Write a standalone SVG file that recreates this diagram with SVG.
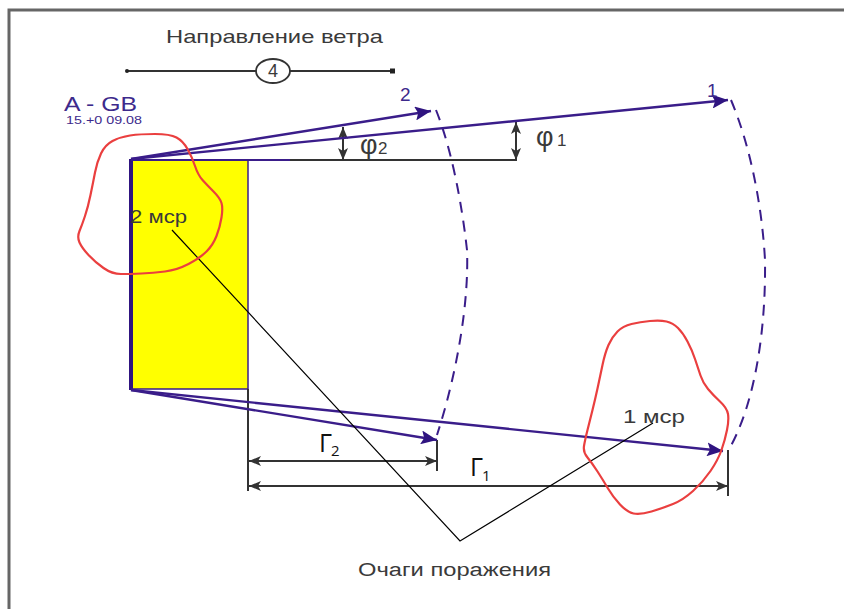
<svg xmlns="http://www.w3.org/2000/svg" width="844" height="609" viewBox="0 0 844 609">
<style>
.t{font-family:"Liberation Sans",Arial,sans-serif;fill:#3a3a3a}
.p{font-family:"Liberation Sans",Arial,sans-serif;fill:#3d2a8c}
.g{font-family:"Open Sans","Noto Sans",sans-serif;fill:#111}
.v{fill:none;stroke:#3a1d8a;stroke-width:2.400}
.d{fill:none;stroke:#3a1d8a;stroke-width:2;stroke-dasharray:11 8}
.k{fill:none;stroke:#333;stroke-width:2}
.r{fill:none;stroke:#ea3f3f;stroke-width:2.200;stroke-linejoin:round}
.b{fill:none;stroke:#000;stroke-width:1.200}
</style>
<defs>
<marker id="av" markerUnits="userSpaceOnUse" markerWidth="18" markerHeight="14" refX="16" refY="7" orient="auto"><path d="M0 0L16 7L0 14L3 7Z" fill="#2f1480"/></marker>
<marker id="as" markerUnits="userSpaceOnUse" markerWidth="14" markerHeight="12" refX="12" refY="5" orient="auto-start-reverse"><path d="M0 0L12 5L0 10L3 5Z" fill="#333"/></marker>
</defs>
<g id="frame"><path d="M9 609V10H844" fill="none" stroke="#666" stroke-width="3"/></g>
<g id="zone">
<rect x="131" y="160" width="117" height="229" fill="#ffff00"/>
<path d="M248 160V389" stroke="#3a1d8a" stroke-width="1.500" fill="none"/>
<path d="M131 159V390" stroke="#2f1480" stroke-width="4" fill="none"/>
<path d="M131 160H290" stroke="#3a1d8a" stroke-width="2" fill="none"/>
<path d="M131 389H248" stroke="#3a1d8a" stroke-width="1.500" fill="none"/>
</g>
<g id="connectors">
<path class="k" d="M290 160H517"/>
<path class="k" d="M248 389V491M437 440V471M728 450V496"/>
<path class="k" marker-start="url(#as)" marker-end="url(#as)" d="M343 127V160"/>
<path class="k" marker-start="url(#as)" marker-end="url(#as)" d="M516 122V160"/>
<path class="k" marker-start="url(#as)" marker-end="url(#as)" d="M249 461H437"/>
<path class="k" marker-start="url(#as)" marker-end="url(#as)" d="M249 486H728"/>
<path class="v" marker-end="url(#av)" d="M131 159L431 111"/>
<path class="v" marker-end="url(#av)" d="M131 159L728 100"/>
<path class="v" marker-end="url(#av)" d="M131 390L437 440"/>
<path class="v" marker-end="url(#av)" d="M131 390L723 451"/>
<path class="d" d="M436 110C452 150 462 205 467 250C469 300 458 370 437 435"/>
<path class="d" d="M731 100C750 145 762 205 765 260C766 330 755 405 728 451"/>
<path class="b" d="M172 230L460 541L653 423"/>
</g>
<g id="wind">
<path d="M127 71H393" fill="none" stroke="#333" stroke-width="1.800"/>
<circle cx="127" cy="71" r="2" fill="#222"/><rect x="390" y="68.500" width="5" height="5" fill="#222"/>
<ellipse cx="273" cy="71" rx="17" ry="12" fill="#fff" stroke="#333" stroke-width="1.800"/>
<text class="t" x="273" y="77" font-size="18" text-anchor="middle">4</text>
<text class="t" x="166" y="43" font-size="19" textLength="217" lengthAdjust="spacingAndGlyphs">Направление ветра</text>
</g>
<g id="source-label">
<text class="p" x="64" y="111" font-size="21" textLength="73" lengthAdjust="spacingAndGlyphs">A - GB</text>
<text class="p" x="66" y="124" font-size="11" textLength="76" lengthAdjust="spacingAndGlyphs">15.+0 09.08</text>
</g>
<g id="focus-2">
<path class="r" d="M155 134Q170 134 176.500 137.500Q183 141 187.500 149Q192 157 195 166Q198 175 202.500 180Q207 185 213.500 191.500Q220 198 221.500 203Q223 208 221.500 217.500Q220 227 216.500 236Q213 245 206.500 251.500Q200 258 188.500 264Q177 270 165 271.500Q153 273 141.500 273.500Q130 274 121 274Q112 274 103.500 268Q95 262 88.500 255Q82 248 79.500 242.500Q77 237 79.500 231Q82 225 85 216Q88 207 90.500 195Q93 183 95 172.500Q97 162 101 153.500Q105 145 112.500 141Q120 137 130 135.500Q140 134 155 134Z"/>
<text class="t" x="130" y="223" font-size="18" textLength="57" lengthAdjust="spacingAndGlyphs">2 мср</text>
</g>
<g id="focus-1">
<path class="r" d="M650 321Q660 320 666.500 321.500Q673 323 678 328Q683 333 687.500 341.500Q692 350 695 359Q698 368 700.500 375.500Q703 383 708 389Q713 395 720 401.500Q727 408 728 414Q729 420 727 430Q725 440 721.500 450Q718 460 710.500 471Q703 482 693 491Q683 500 673 504Q663 508 651.500 511.500Q640 515 633.500 513.500Q627 512 620 504.500Q613 497 608 488.500Q603 480 597.500 471.500Q592 463 587.500 457.500Q583 452 584 446Q585 440 587.500 430Q590 420 592.500 410Q595 400 597.500 388.500Q600 377 602.500 365Q605 353 608.500 345Q612 337 617.500 331.500Q623 326 631.500 324Q640 322 650 321Z"/>
<text class="t" x="623" y="423" font-size="18" textLength="62" lengthAdjust="spacingAndGlyphs">1 мср</text>
</g>
<g id="labels">
<text class="p" x="400" y="101" font-size="19">2</text>
<text class="p" x="707" y="97" font-size="19">1</text>
<text class="t" x="360" y="154" font-size="27">φ</text><text class="t" x="378" y="154" font-size="17">2</text>
<text class="t" x="536" y="146" font-size="27">φ</text><text class="t" x="557" y="146" font-size="17">1</text>
<text class="g" x="319" y="452" font-size="25">Г</text><text class="g" x="331" y="456" font-size="15">2</text>
<text class="g" x="470" y="476" font-size="25">Г</text><text class="g" x="482" y="481" font-size="15">1</text>
<text class="t" x="358" y="576" font-size="18" textLength="193" lengthAdjust="spacingAndGlyphs">Очаги поражения</text>
</g>
</svg>
